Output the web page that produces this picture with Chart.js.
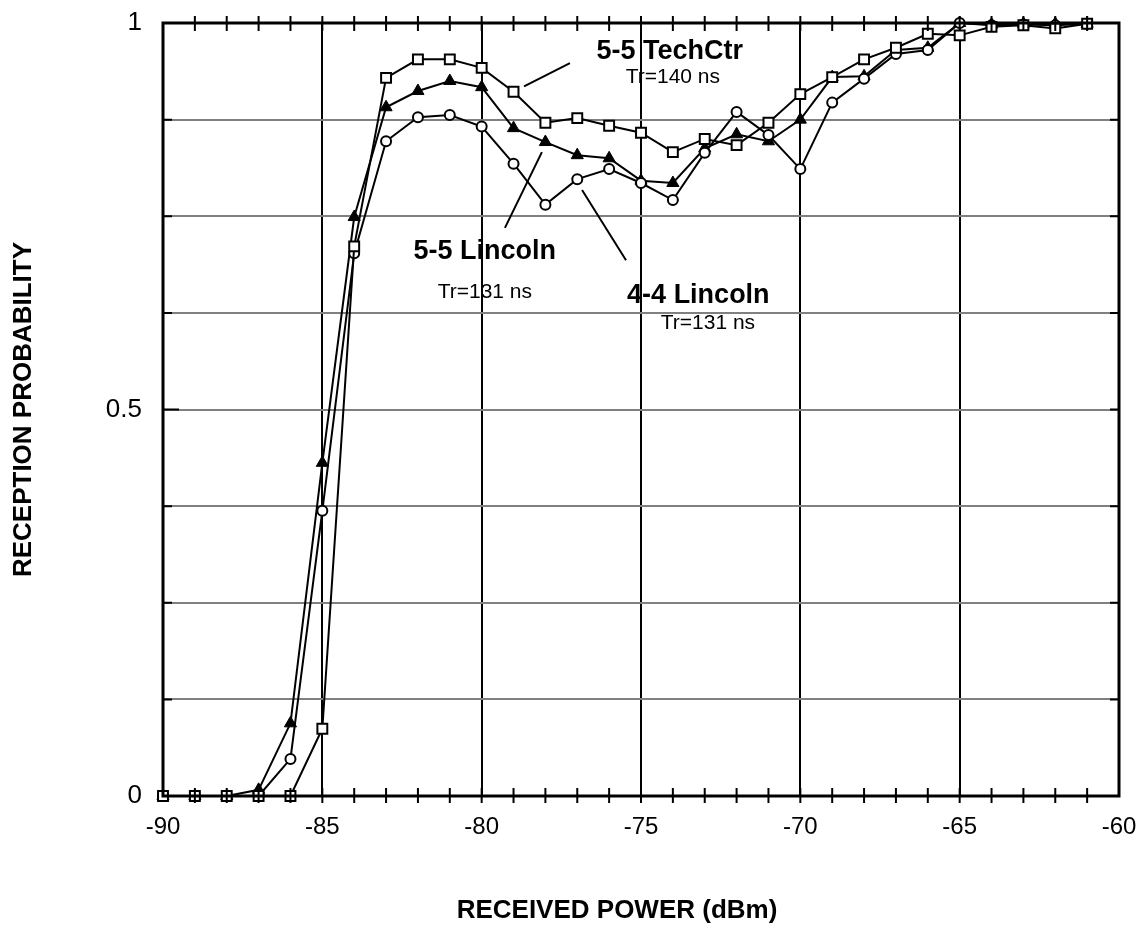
<!DOCTYPE html>
<html>
<head>
<meta charset="utf-8">
<script src="https://cdn.jsdelivr.net/npm/chart.js@4/dist/chart.umd.min.js"></script>
<style>
  html, body { margin: 0; background: #fff; }
  #wrap { width: 1140px; height: 929px; }
</style>
</head>
<body>
<div id="wrap"><canvas id="chart"></canvas></div>
<script>
// received power, dBm
const power = [-90, -89, -88, -87, -86, -85, -84, -83, -82, -81, -80, -79, -78, -77, -76,
               -75, -74, -73, -72, -71, -70, -69, -68, -67, -66, -65, -64, -63, -62, -61];

// reception probability per series
const techCtr55 = [0, 0, 0, 0, 0, 0.087, 0.711, 0.929, 0.953, 0.953, 0.942, 0.911, 0.871, 0.877, 0.867,
                   0.858, 0.833, 0.850, 0.842, 0.871, 0.908, 0.930, 0.953, 0.968, 0.986, 0.984, 0.995, 0.997, 0.993, 0.999];
const lincoln55 = [0, 0, 0, 0.008, 0.094, 0.431, 0.749, 0.891, 0.912, 0.925, 0.917, 0.864, 0.846, 0.829, 0.825,
                   0.796, 0.793, 0.838, 0.856, 0.847, 0.875, 0.930, 0.931, 0.965, 0.968, 1.0, 0.998, 0.999, 0.999, 0.999];
const lincoln44 = [0, 0, 0, 0, 0.048, 0.369, 0.702, 0.847, 0.878, 0.881, 0.866, 0.818, 0.765, 0.798, 0.811,
                   0.793, 0.771, 0.832, 0.885, 0.855, 0.811, 0.897, 0.928, 0.960, 0.965, 1.0, 0.997, 0.998, 0.997, 0.999];

const xLabelTicks = [-90, -85, -80, -75, -70, -65, -60];
const yLabelTicks = [0, 0.5, 1];

// callout labels, in data units: [x, y, text, bold]
const notes = [
  [-74.1, 0.953, '5-5 TechCtr', true],
  [-74.0, 0.922, 'Tr=140 ns', false],
  [-79.9, 0.695, '5-5 Lincoln', true],
  [-79.9, 0.644, 'Tr=131 ns', false],
  [-73.2, 0.638, '4-4 Lincoln', true],
  [-72.9, 0.604, 'Tr=131 ns', false]
];
// leader lines: [x1, y1, x2, y2]
const leaders = [
  [-78.67, 0.918, -77.23, 0.948],
  [-79.27, 0.735, -78.11, 0.833],
  [-76.85, 0.784, -75.47, 0.693]
];

const FONT = '"Liberation Sans", Arial, sans-serif';

const pts = arr => power.map((p, i) => ({ x: p, y: arr[i] }));

const frame = {
  id: 'frame',
  afterDatasetsDraw(chart) {
    const c = chart.ctx, a = chart.chartArea;
    const xs = chart.scales.x, ys = chart.scales.y;
    c.save();
    c.strokeStyle = '#000';
    c.lineWidth = 3;
    c.strokeRect(a.left, a.top, a.right - a.left, a.bottom - a.top);

    // minor ticks on top and bottom
    c.lineWidth = 2;
    c.beginPath();
    for (let v = -89; v <= -61; v++) {
      const px = xs.getPixelForValue(v);
      c.moveTo(px, a.top - 7); c.lineTo(px, a.top + 8);
      c.moveTo(px, a.bottom - 8); c.lineTo(px, a.bottom + 7);
    }
    // y ticks left and right
    for (let k = 1; k < 8; k++) {
      const py = ys.getPixelForValue(k / 8);
      const len = k === 4 ? 16 : 9;
      c.moveTo(a.left, py); c.lineTo(a.left + len, py);
      c.moveTo(a.right, py); c.lineTo(a.right - 9, py);
    }
    c.stroke();

    // leader lines
    c.beginPath();
    leaders.forEach(l => {
      c.moveTo(xs.getPixelForValue(l[0]), ys.getPixelForValue(l[1]));
      c.lineTo(xs.getPixelForValue(l[2]), ys.getPixelForValue(l[3]));
    });
    c.stroke();

    // callout text
    c.fillStyle = '#000';
    c.textAlign = 'center';
    c.textBaseline = 'alphabetic';
    notes.forEach(n => {
      c.font = (n[3] ? 'bold 27px ' : '21px ') + FONT;
      c.fillText(n[2], xs.getPixelForValue(n[0]), ys.getPixelForValue(n[1]));
    });

    // axis titles
    c.font = 'bold 26px ' + FONT;
    c.textBaseline = 'middle';
    c.fillText('RECEIVED POWER (dBm)', 617, 911);
    c.translate(24, (a.top + a.bottom) / 2);
    c.rotate(-Math.PI / 2);
    c.fillText('RECEPTION PROBABILITY', 0, 0);
    c.restore();
  }
};

new Chart(document.getElementById('chart'), {
  type: 'scatter',
  data: {
    datasets: [
      {
        label: '5-5 TechCtr', data: pts(techCtr55), showLine: true,
        borderColor: '#000', borderWidth: 2, pointStyle: 'rect', pointRadius: 7,
        pointBackgroundColor: '#fff', pointBorderColor: '#000', pointBorderWidth: 2, clip: false
      },
      {
        label: '4-4 Lincoln', data: pts(lincoln44), showLine: true,
        borderColor: '#000', borderWidth: 2, pointStyle: 'circle', pointRadius: 5,
        pointBackgroundColor: '#fff', pointBorderColor: '#000', pointBorderWidth: 2, clip: false
      },
      {
        label: '5-5 Lincoln', data: pts(lincoln55), showLine: true,
        borderColor: '#000', borderWidth: 2, pointStyle: 'triangle', pointRadius: 7,
        pointBackgroundColor: '#000', pointBorderColor: '#000', pointBorderWidth: 1, clip: false
      }
    ]
  },
  options: {
    responsive: true,
    maintainAspectRatio: false,
    animation: false,
    layout: { padding: { left: 0, right: 21, top: 23, bottom: 0 } },
    plugins: { legend: { display: false }, tooltip: { enabled: false } },
    scales: {
      x: {
        type: 'linear', min: -90, max: -60,
        afterFit: s => { s.height = 133; s.paddingLeft = 0; s.paddingRight = 0; },
        ticks: {
          stepSize: 1, autoSkip: false, maxRotation: 0, padding: 17, color: '#000',
          font: { size: 24, family: FONT },
          callback: v => xLabelTicks.includes(v) ? String(v) : ''
        },
        grid: {
          drawTicks: false, lineWidth: 2,
          color: ctx => (ctx.tick && ctx.tick.value % 5 === 0) ? '#000' : 'rgba(0,0,0,0)'
        },
        border: { display: false }
      },
      y: {
        min: 0, max: 1,
        afterFit: s => { s.width = 163; s.paddingTop = 0; s.paddingBottom = 0; },
        ticks: {
          stepSize: 0.125, autoSkip: false, padding: 21, color: '#000',
          font: { size: 26, family: FONT },
          callback: v => yLabelTicks.includes(v) ? String(v) : ''
        },
        grid: {
          drawTicks: false, lineWidth: 2,
          color: ctx => (ctx.tick && (ctx.tick.value === 0 || ctx.tick.value === 1)) ? 'rgba(0,0,0,0)' : '#808080'
        },
        border: { display: false }
      }
    }
  },
  plugins: [frame]
});
</script>
</body>
</html>
